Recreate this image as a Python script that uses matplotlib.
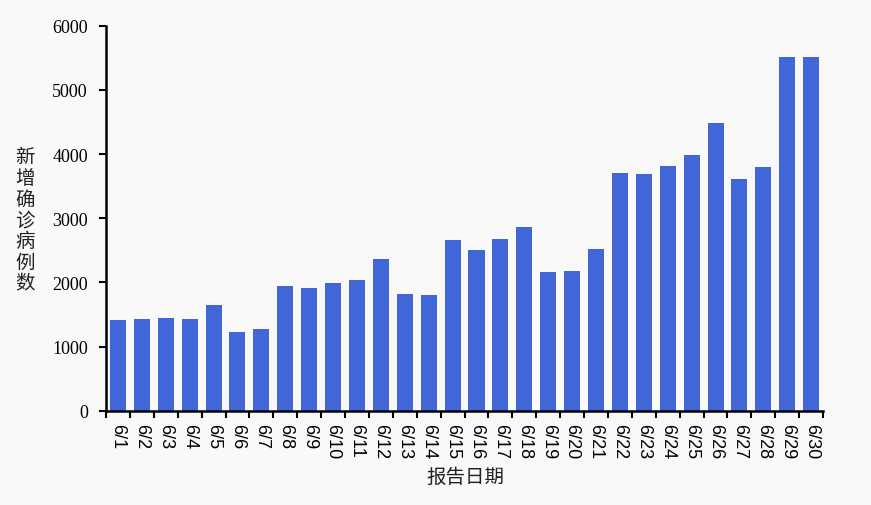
import matplotlib
matplotlib.use("Agg")
import matplotlib.pyplot as plt
import numpy as np

dates = [f"6/{d}" for d in range(1, 31)]
cases = [1413, 1428, 1444, 1428, 1646, 1226, 1273, 1942, 1911, 1989,
         2036, 2363, 1817, 1802, 2659, 2503, 2674, 2861, 2160, 2176,
         2518, 3703, 3687, 3812, 3983, 4482, 3609, 3796, 5509, 5509]
yticks = [0, 1000, 2000, 3000, 4000, 5000, 6000]
xlabel = "报告日期"
ylabel = "新增确诊病例数"

bg = "#f9f9f9"
fig = plt.figure(figsize=(8.71, 5.06), dpi=100, facecolor=bg)
ax = fig.add_axes([0.1217, 0.1864, 0.8233, 0.7606])
ax.set_facecolor(bg)

x = np.arange(len(dates))
ax.bar(x, cases, width=0.67, color="#4166d8", edgecolor="none")

ax.set_xlim(-0.5, len(dates) - 0.5)
ax.set_ylim(0, 6000)
ax.set_yticks(yticks)
ax.set_yticklabels([str(v) for v in yticks], fontfamily="Liberation Serif", fontsize=13)
ax.set_xticks(x)
ax.set_xticklabels(dates, rotation=-90, fontfamily="Liberation Sans", fontsize=13,
                   va="top", ha="center")
ax.tick_params(axis="x", which="major", length=0, pad=9)
ax.set_xticks(np.arange(-0.5, len(dates), 1.0), minor=True)
ax.tick_params(axis="x", which="minor", length=5, width=1.5, direction="out")
ax.tick_params(axis="y", length=5, width=1.5, direction="out", pad=8)

for s in ["top", "right"]:
    ax.spines[s].set_visible(False)
for s in ["left", "bottom"]:
    ax.spines[s].set_linewidth(1.8)

fig.text(465 / 871, 1 - 477 / 506, xlabel, fontfamily=["Noto Sans CJK SC"], fontsize=14,
         ha="center", va="center", color="#222222")
fig.text(25 / 871, 1 - 221 / 506, "\n".join(ylabel), fontfamily=["Noto Sans CJK SC"],
         fontsize=14, ha="center", va="center", linespacing=1.0, color="#222222")

fig.savefig("out.png", dpi=100, facecolor=bg)
